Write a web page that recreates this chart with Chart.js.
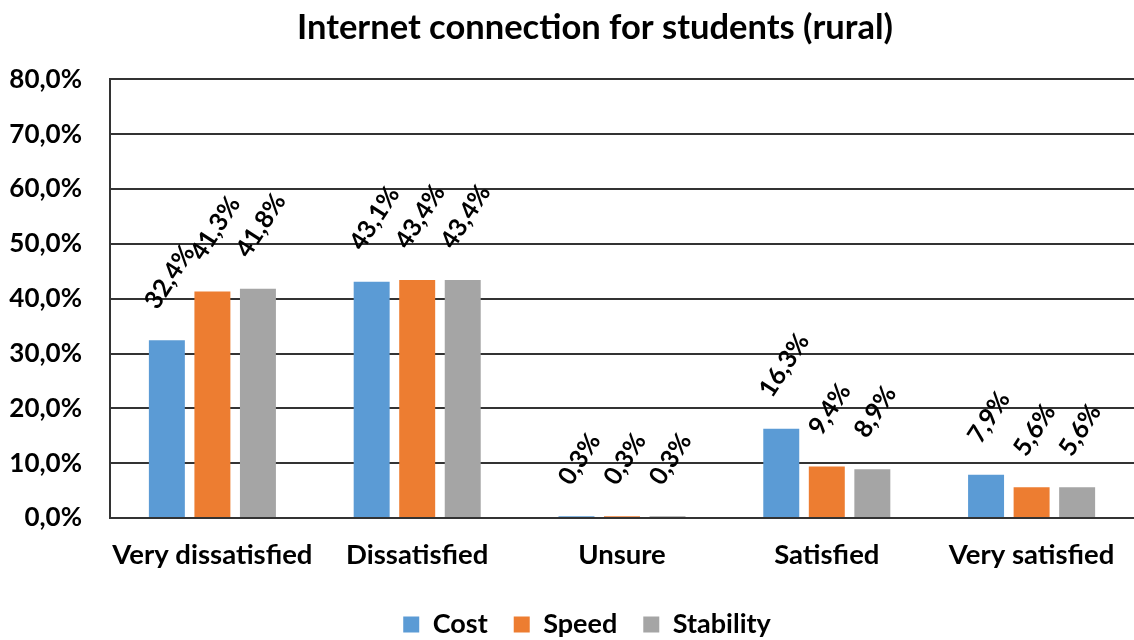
<!DOCTYPE html>
<html>
<head>
<meta charset="utf-8">
<script src="https://cdn.jsdelivr.net/npm/chart.js@4.4.0/dist/chart.umd.min.js"></script>
<style>
  html, body { margin: 0; padding: 0; background: #ffffff; }
  #wrap { width: 1134px; height: 640px; position: relative; }
</style>
</head>
<body>
<div id="wrap"><canvas id="c" width="1134" height="640"></canvas></div>
<script>
const titleText = 'Internet connection for students (rural)';
const categories = ['Very dissatisfied', 'Dissatisfied', 'Unsure', 'Satisfied', 'Very satisfied'];
const seriesNames = ['Cost', 'Speed', 'Stability'];
const costValues = [32.4, 43.1, 0.3, 16.3, 7.9];
const speedValues = [41.3, 43.4, 0.3, 9.4, 5.6];
const stabilityValues = [41.8, 43.4, 0.3, 8.9, 5.6];
const yTickValues = [0, 10, 20, 30, 40, 50, 60, 70, 80];

const colors = ['#5B9BD5', '#ED7D31', '#A5A5A5'];
const FONT = 'Lato, "Open Sans", "DejaVu Sans", sans-serif';
const fmt = v => v.toFixed(1).replace('.', ',') + '%';

const labelPlugin = {
  id: 'rotLabels',
  afterDatasetsDraw(chart) {
    const ctx = chart.ctx;
    const ang = 57 * Math.PI / 180;
    ctx.save();
    ctx.font = 'bold 25px ' + FONT;
    ctx.fillStyle = '#000';
    ctx.textAlign = 'center';
    ctx.textBaseline = 'middle';
    chart.data.datasets.forEach((ds, di) => {
      const meta = chart.getDatasetMeta(di);
      meta.data.forEach((bar, i) => {
        const txt = fmt(ds.data[i]);
        const w = ctx.measureText(txt).width;
        const off = 30 + (w / 2) * Math.sin(ang) + 4;
        ctx.save();
        ctx.translate(bar.x + 3, bar.y - off);
        ctx.rotate(-ang);
        ctx.fillText(txt, 0, 0);
        ctx.restore();
      });
    });
    ctx.restore();
  }
};

const shiftPlugin = {
  id: 'shiftBoxes',
  afterLayout(chart) {
    if (chart.titleBlock) { chart.titleBlock.left += 28; chart.titleBlock.right += 28; }
    if (chart.legend) { chart.legend.left += 20; chart.legend.right += 20; }
  }
};

new Chart(document.getElementById('c'), {
  type: 'bar',
  data: {
    labels: categories,
    datasets: [
      { label: seriesNames[0], data: costValues, backgroundColor: colors[0] },
      { label: seriesNames[1], data: speedValues, backgroundColor: colors[1] },
      { label: seriesNames[2], data: stabilityValues, backgroundColor: colors[2] }
    ]
  },
  options: {
    responsive: false,
    animation: false,
    devicePixelRatio: 1,
    layout: { padding: { left: 0, right: 0, top: 0, bottom: -8 } },
    datasets: { bar: { categoryPercentage: 0.667, barPercentage: 0.79 } },
    scales: {
      x: {
        grid: { display: false },
        border: { display: false },
        ticks: { color: '#000', font: { family: FONT, size: 27.5, weight: 'bold' }, padding: 13, maxRotation: 0, autoSkip: false }
      },
      y: {
        min: 0, max: 80,
        afterFit(s) { s.width = 110; },
        afterBuildTicks(s) { s.ticks = yTickValues.map(v => ({ value: v })); },
        grid: { color: '#333333', lineWidth: 2, drawTicks: false },
        border: { display: true, color: '#333333', width: 2 },
        ticks: { color: '#000', font: { family: FONT, size: 26, weight: 'bold' }, padding: 28, callback: v => fmt(v) }
      }
    },
    plugins: {
      title: {
        display: true, text: titleText, color: '#000',
        font: { family: FONT, size: 34.5, weight: 'bold' },
        padding: { top: 7, bottom: 31 }
      },
      legend: {
        position: 'bottom',
        labels: { color: '#000', font: { family: FONT, size: 27, weight: 'bold' }, boxWidth: 16, boxHeight: 16, padding: 26 }
      },
      tooltip: { enabled: false }
    }
  },
  plugins: [labelPlugin, shiftPlugin]
});
</script>
</body>
</html>
